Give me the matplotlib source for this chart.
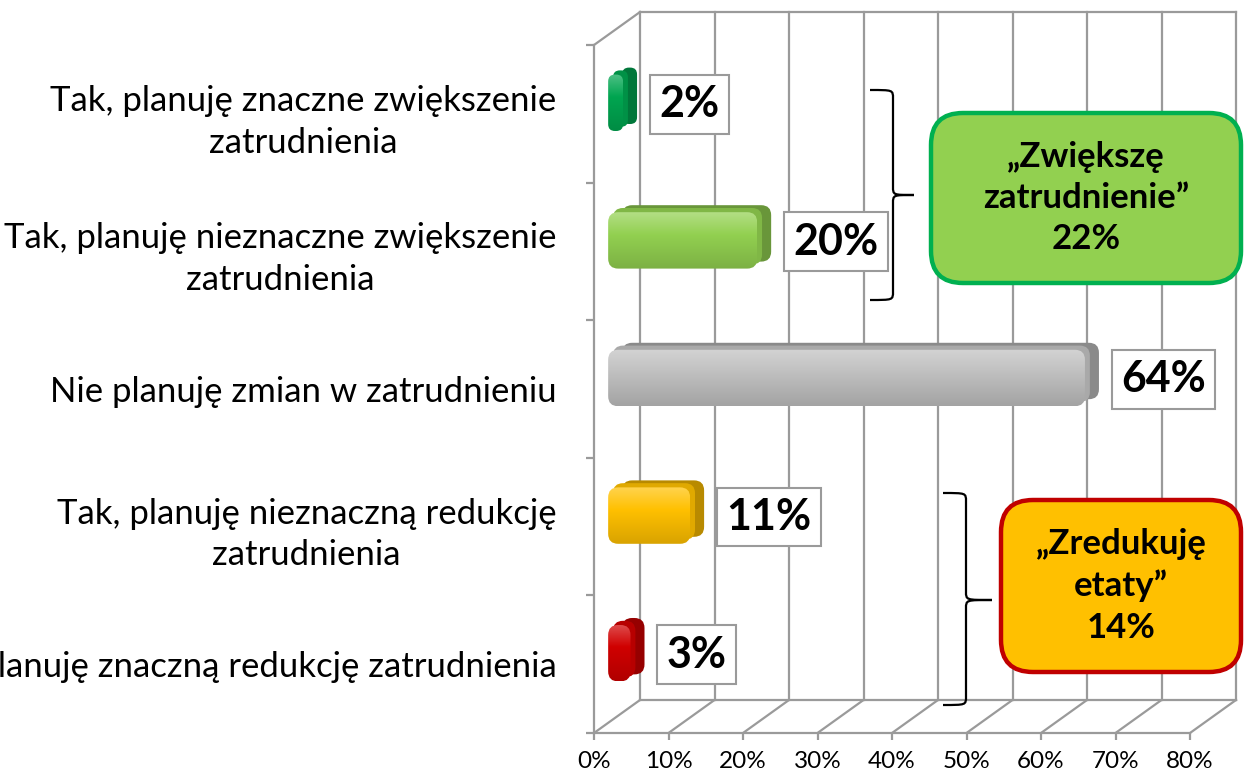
import matplotlib
matplotlib.use('Agg')
import matplotlib.pyplot as plt
import numpy as np
from matplotlib.patches import FancyBboxPatch, PathPatch
from matplotlib.path import Path
from matplotlib.colors import to_rgb

# ---------------- data ----------------
categories = [
    'Tak, planuję znaczne zwiększenie\nzatrudnienia',
    'Tak, planuję nieznaczne zwiększenie\nzatrudnienia',
    'Nie planuję zmian w zatrudnieniu',
    'Tak, planuję nieznaczną redukcję\nzatrudnienia',
    'Tak, planuję znaczną redukcję zatrudnienia',
]
values = [2, 20, 64, 11, 3]
value_labels = ['2%', '20%', '64%', '11%', '3%']
xticks = [0, 10, 20, 30, 40, 50, 60, 70, 80]
xtick_labels = ['0%', '10%', '20%', '30%', '40%', '50%', '60%', '70%', '80%']
group_increase_label = '„Zwiększę\nzatrudnienie”\n22%'
group_reduce_label = '„Zredukuję\netaty”\n14%'

# ---------------- styles ----------------
bar_colors = ['#00A550', '#92D050', '#C0C0C0', '#FFC000', '#D00000']
grid_col = '#9A9A9A'
FONT = ['Lato', 'DejaVu Sans']
plt.rcParams['font.family'] = FONT

W, H = 1244, 779
fig = plt.figure(figsize=(W / 100, H / 100), dpi=100)
ax = fig.add_axes([594 / W, (H - 733) / H, (1190 - 594) / W, (733 - 45) / H])
ax.set_xlim(0, 80)
ax.set_ylim(0, 5)

px_x = (1190 - 594) / 80.0   # pixels per percent
px_y = (733 - 45) / 5.0      # pixels per category
masp = px_x / px_y           # mutation aspect for round corners

DX = 46 / px_x   # depth offset of back wall
DY = 33 / px_y

n = len(categories)
centers = [n - 1 - i + 0.5 for i in range(n)]

# ---------------- 3D frame ----------------
lw = 1.6
for g in xticks:
    ax.plot([g + DX, g + DX], [DY, 5 + DY], color=grid_col, lw=lw, clip_on=False, zorder=1)
    ax.plot([g, g + DX], [0, DY], color=grid_col, lw=lw, clip_on=False, zorder=1)
ax.plot([DX, 80 + DX], [5 + DY, 5 + DY], color=grid_col, lw=lw, clip_on=False, zorder=1)
ax.plot([DX, 80 + DX], [DY, DY], color=grid_col, lw=lw, clip_on=False, zorder=1)
ax.plot([0, DX], [5, 5 + DY], color=grid_col, lw=lw, clip_on=False, zorder=1)

for s in ['top', 'right']:
    ax.spines[s].set_visible(False)
for s in ['left', 'bottom']:
    ax.spines[s].set_color(grid_col)
    ax.spines[s].set_linewidth(lw)
ax.patch.set_alpha(0)

# ticks
ax.set_yticks(centers, labels=categories)
ax.set_yticks(range(6), minor=True)
ax.tick_params(axis='y', which='major', length=0, pad=27, labelsize=25)
ax.tick_params(axis='y', which='minor', length=6, color=grid_col, width=lw)
for lbl in ax.get_yticklabels():
    lbl.set_multialignment('center')
    lbl.set_linespacing(1.38)
ax.set_xticks(xticks, labels=xtick_labels)
ax.tick_params(axis='x', length=5, color=grid_col, width=lw, pad=8, labelsize=17.5)


# ---------------- bars ----------------
def mix(c, other, t):
    c = np.array(to_rgb(c)); o = np.array(to_rgb(other))
    return c * (1 - t) + o * t


x0 = 1.9            # bar front-face start (mid depth)
yshift = 0.08
bh = 0.41
bdx = 14 / px_x
bdy = 7 / px_y
r_px = 10

for v, lab, yc, col in zip(values, value_labels, centers, bar_colors):
    wpx = v * px_x
    r = min(r_px, wpx / 2.2) / px_x
    yb = yc + yshift - bh / 2
    # depth (side / top) shape
    back = FancyBboxPatch((x0 + bdx, yb + bdy), v, bh,
                          boxstyle=f'round,pad=0,rounding_size={r}',
                          mutation_aspect=masp,
                          fc=mix(col, 'black', 0.28), ec='none', zorder=3)
    ax.add_patch(back)
    top = FancyBboxPatch((x0 + bdx * 0.35, yb + bdy * 0.6), v, bh,
                         boxstyle=f'round,pad=0,rounding_size={r}',
                         mutation_aspect=masp,
                         fc=mix(col, 'black', 0.12), ec='none', zorder=3.2)
    ax.add_patch(top)
    front = FancyBboxPatch((x0, yb), v, bh,
                           boxstyle=f'round,pad=0,rounding_size={r}',
                           mutation_aspect=masp,
                           fc='none', ec='none', zorder=3.5)
    ax.add_patch(front)
    t = np.linspace(0, 1, 64)
    base = np.array(to_rgb(col))
    light = mix(col, 'white', 0.3)
    dark = mix(col, 'black', 0.15)
    grad = np.zeros((64, 1, 3))
    for k, tt in enumerate(t):
        if tt > 0.6:
            a = (tt - 0.6) / 0.4
            grad[k, 0] = base * (1 - a) + light * a
        else:
            a = tt / 0.6
            grad[k, 0] = dark * (1 - a) + base * a
    im = ax.imshow(grad, extent=[x0, x0 + v, yb, yb + bh], origin='lower',
                   aspect='auto', zorder=3.5, interpolation='bilinear')
    im.set_clip_path(front)

    ax.annotate(lab, xy=(x0 + v + bdx, yc + yshift), xytext=(16, -1),
                textcoords='offset points', ha='left', va='center',
                fontsize=31, fontweight='bold', color='black', zorder=6,
                bbox=dict(boxstyle='square,pad=0.22', fc='white', ec=grid_col, lw=1.5))


# ---------------- braces ----------------
def brace(xe, xs, xt, y0, y1, ym, rr=0.06):
    verts = [(xe, y1), (xs, y1), (xs, y1), (xs, y1 - rr),
             (xs, ym + rr),
             (xs, ym), (xs, ym), (xt, ym),
             (xs, ym), (xs, ym), (xs, ym - rr),
             (xs, y0 + rr),
             (xs, y0), (xs, y0), (xe, y0)]
    codes = [Path.MOVETO, Path.CURVE4, Path.CURVE4, Path.CURVE4,
             Path.LINETO,
             Path.CURVE4, Path.CURVE4, Path.CURVE4,
             Path.CURVE4, Path.CURVE4, Path.CURVE4,
             Path.LINETO,
             Path.CURVE4, Path.CURVE4, Path.CURVE4]
    ax.add_patch(PathPatch(Path(verts, codes), fc='none', ec='black', lw=1.6,
                           clip_on=False, zorder=5))


def px2x(p):
    return (p - 594) / px_x


def px2y(p):
    return (733 - p) / px_y


brace(px2x(870), px2x(893), px2x(914), px2y(300), px2y(90), px2y(195))
brace(px2x(943), px2x(966), px2x(992), px2y(705), px2y(493), px2y(600))


# ---------------- callouts ----------------
def callout(xl, xr, yt, yb, fc, ec, text):
    x_a, x_b = px2x(xl), px2x(xr)
    y_a, y_b = px2y(yb), px2y(yt)
    p = FancyBboxPatch((x_a, y_a), x_b - x_a, y_b - y_a,
                       boxstyle=f'round,pad=0,rounding_size={32 / px_x}',
                       mutation_aspect=masp,
                       fc=fc, ec=ec, lw=3.2, clip_on=False, zorder=5)
    ax.add_patch(p)
    ax.text((x_a + x_b) / 2, (y_a + y_b) / 2, text, ha='center', va='center',
            fontsize=25, fontweight='bold', linespacing=1.36, color='black',
            zorder=6, clip_on=False)


callout(931, 1241, 113, 283, '#92D050', '#00B050', group_increase_label)
callout(1001, 1241, 500, 672, '#FFC000', '#C00000', group_reduce_label)

fig.savefig('out.png', dpi=100)
